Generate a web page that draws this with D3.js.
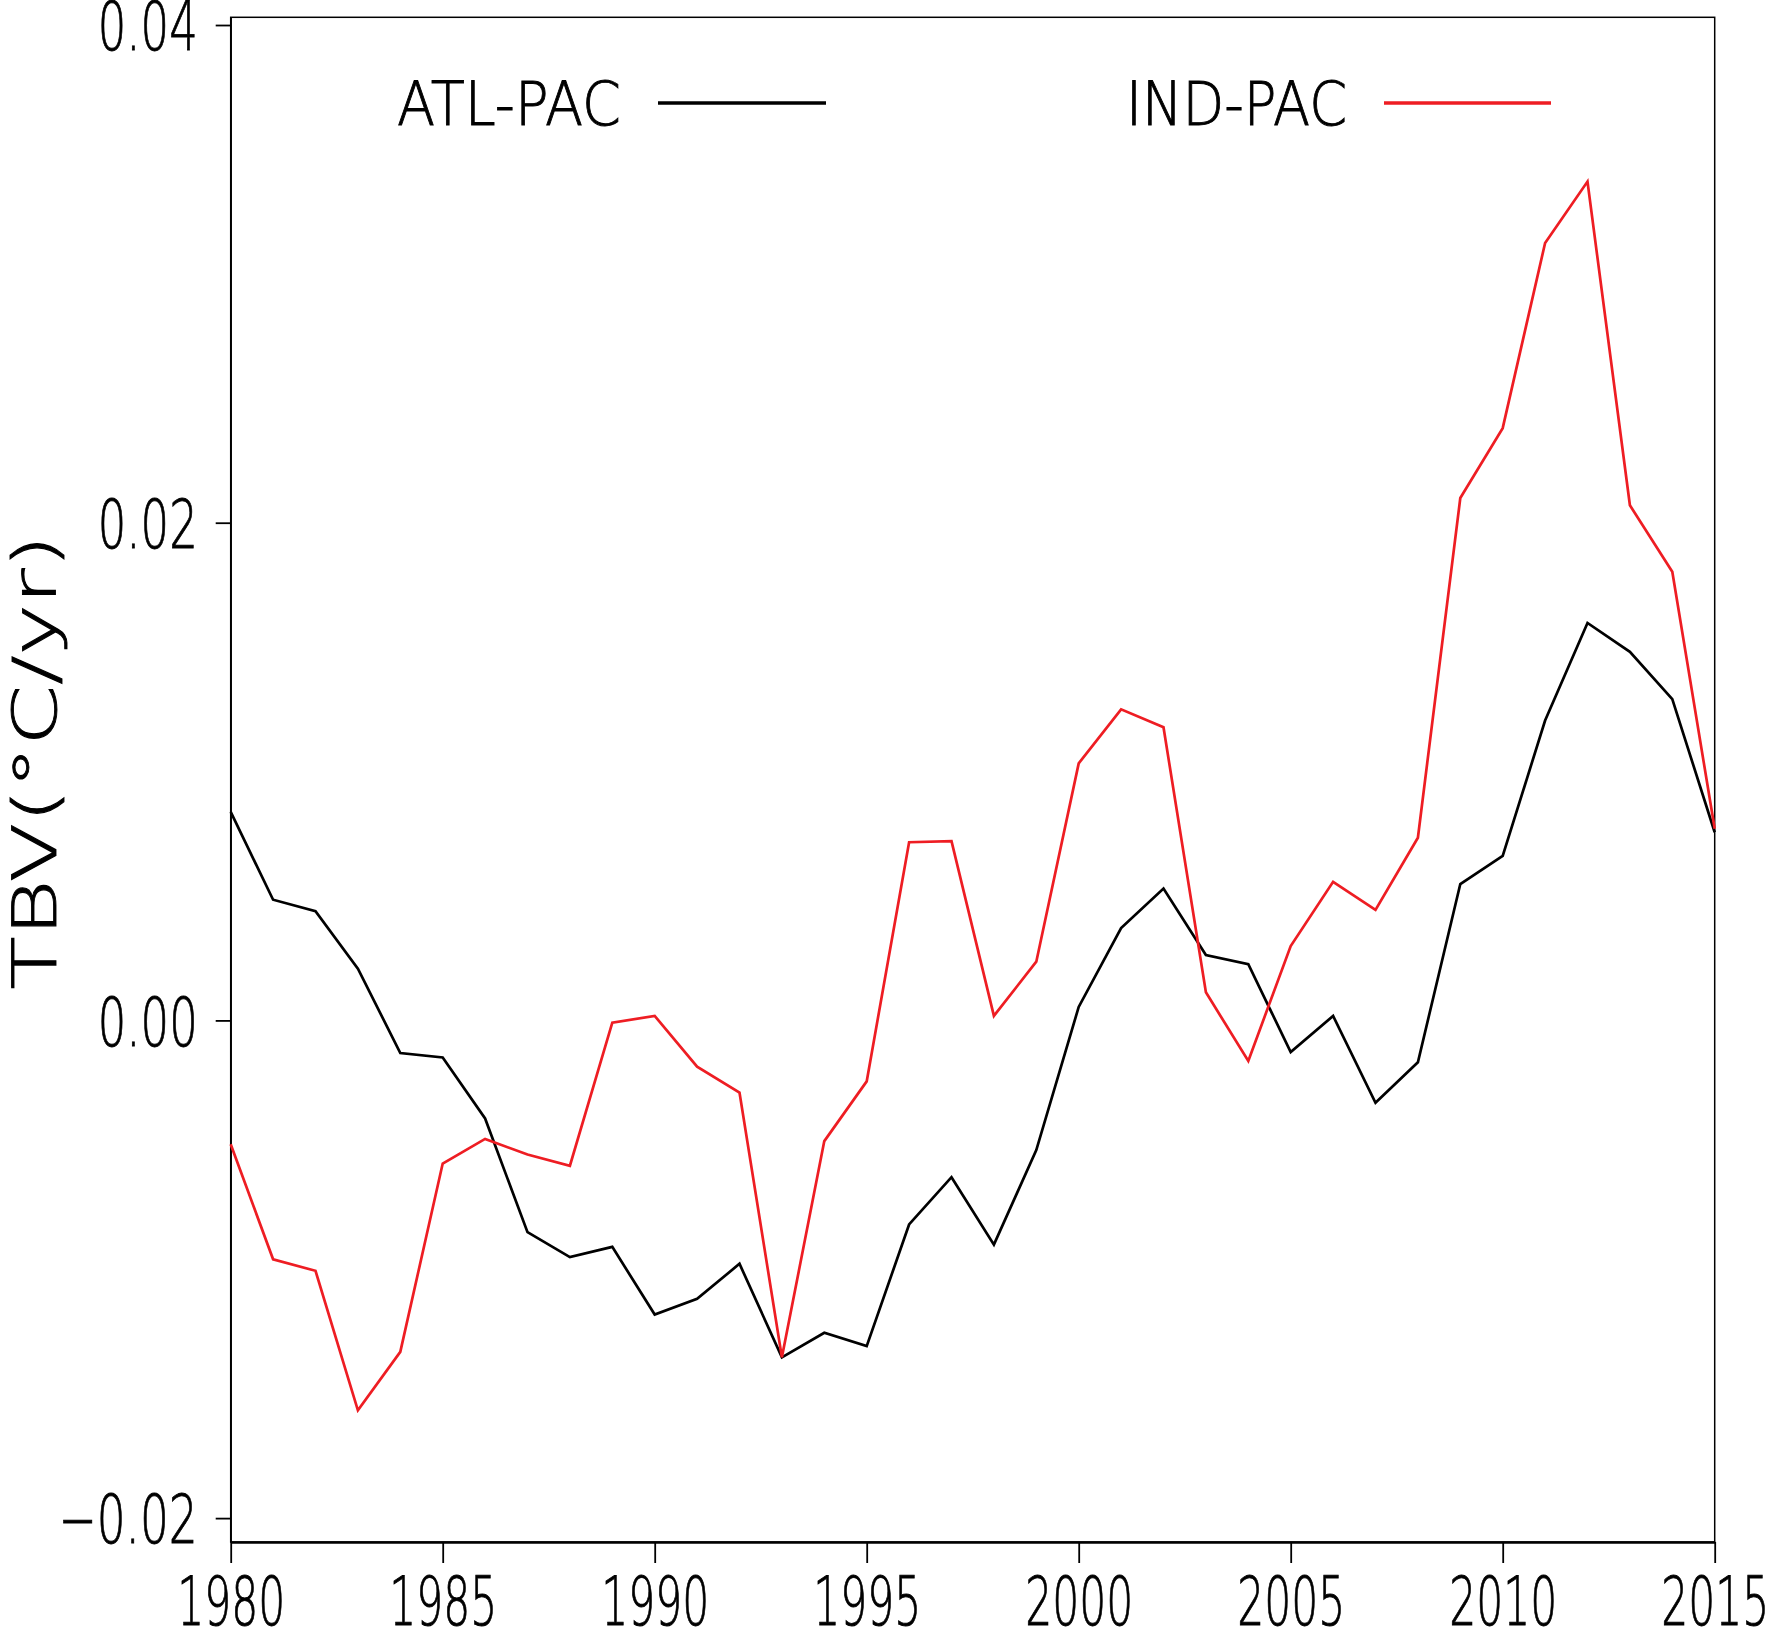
<!DOCTYPE html>
<html>
<head>
<meta charset="utf-8">
<script src="https://cdn.jsdelivr.net/npm/d3@7"></script>
<style>
  html, body { margin: 0; padding: 0; background: #fff; }
  svg { display: block; }
  text { font-family: "DejaVu Sans", sans-serif; font-weight: 200; fill: #000; stroke: #000; stroke-width: 0.9; }
</style>
</head>
<body>
<svg id="chart" width="1772" height="1628"></svg>
<script>
const years = [1980, 1981, 1982, 1983, 1984, 1985, 1986, 1987, 1988, 1989,
  1990, 1991, 1992, 1993, 1994, 1995, 1996, 1997, 1998, 1999,
  2000, 2001, 2002, 2003, 2004, 2005, 2006, 2007, 2008, 2009,
  2010, 2011, 2012, 2013, 2014, 2015];

const atlPac = [0.00838, 0.00485, 0.00439, 0.00208, -0.00131, -0.00149, -0.00394, -0.00851, -0.00951, -0.0091,
  -0.01182, -0.01119, -0.00978, -0.01354, -0.01255, -0.01309, -0.0082, -0.0063, -0.00901, -0.00521,
  0.00054, 0.00371, 0.0053, 0.00263, 0.00226, -0.00127, 0.00018, -0.00331, -0.00168, 0.00548,
  0.00661, 0.01205, 0.01597, 0.01481, 0.01291, 0.00756];

const indPac = [-0.00498, -0.0096, -0.01006, -0.01567, -0.01332, -0.00575, -0.00476, -0.00539, -0.00584, -0.00009,
  0.00018, -0.00186, -0.0029, -0.01354, -0.00485, -0.00245, 0.00716, 0.0072, 0.00018, 0.00236,
  0.01033, 0.0125, 0.01178, 0.00113, -0.00163, 0.00299, 0.00557, 0.00444, 0.00734, 0.02099,
  0.0238, 0.03124, 0.03371, 0.0207, 0.01803, 0.0077];

const xTicks = [1980, 1985, 1990, 1995, 2000, 2005, 2010, 2015];
const yTicks = [-0.02, 0, 0.02, 0.04];
const yTickLabels = ["\u22120.02", "0.00", "0.02", "0.04"];
const seriesNames = ["ATL-PAC", "IND-PAC"];
const seriesColors = ["#000000", "#ee1d23"];
const yTitle = "TBV(\u00b0C/yr)";

const svg = d3.select("#chart");

const plotLeft = 230.7, plotRight = 1714.7, plotTop = 17.3, plotBottom = 1542;
const x = d3.scaleLinear().domain([1980, 2015]).range([plotLeft, plotRight]);
const y = d3.scaleLinear().domain([-0.02096, 0.04031]).range([plotBottom, plotTop]);

// condensed plotter font: squeeze glyphs to a fixed width per character
const charWidth = (ch) => (ch === "." ? 19 : ch === "\u2212" ? 39 : 27);
function squeeze(sel) {
  sel.attr("lengthAdjust", "spacingAndGlyphs")
    .attr("textLength", function () {
      return Array.from(this.textContent).reduce((s, ch) => s + charWidth(ch), 0);
    });
}

// frame
svg.append("rect")
  .attr("x", plotLeft).attr("y", plotTop)
  .attr("width", plotRight - plotLeft).attr("height", plotBottom - plotTop)
  .attr("fill", "none").attr("stroke", "#000").attr("stroke-width", 1.5);

// axes
const xAxis = svg.append("g")
  .attr("transform", `translate(0,${plotBottom})`)
  .call(d3.axisBottom(x).tickValues(xTicks).tickSize(21).tickPadding(14)
    .tickSizeOuter(0).tickFormat(d3.format("d")));

const yAxis = svg.append("g")
  .attr("transform", `translate(${plotLeft},0)`)
  .call(d3.axisLeft(y).tickValues(yTicks).tickSize(15).tickPadding(18)
    .tickSizeOuter(0).tickFormat((d, i) => yTickLabels[i]));

xAxis.select(".domain").attr("stroke-width", 2.6);
yAxis.select(".domain").attr("stroke-width", 1.5);
xAxis.selectAll(".tick line").attr("stroke-width", 1.8);
yAxis.selectAll(".tick line").attr("stroke-width", 1.8);

[xAxis, yAxis].forEach((g) => {
  g.attr("font-family", null).attr("font-size", null);
  g.selectAll("text")
    .attr("font-size", 68)
    .call(squeeze);
});
yAxis.selectAll("text").attr("dy", "0.365em");

// y title
svg.append("text")
  .attr("transform", "translate(56,762) rotate(-90)")
  .attr("text-anchor", "middle")
  .attr("font-size", 60)
  .attr("lengthAdjust", "spacingAndGlyphs")
  .attr("textLength", 455)
  .text(yTitle);

// series
const line = d3.line().x((d, i) => x(years[i])).y((d) => y(d));
[atlPac, indPac].forEach((vals, i) => {
  svg.append("path")
    .datum(vals)
    .attr("fill", "none")
    .attr("stroke", seriesColors[i])
    .attr("stroke-width", 2.7)
    .attr("stroke-linejoin", "miter")
    .attr("d", line);
});

// legend
const legendPos = [
  { tx: 397, tw: 224, lx0: 658, lx1: 826 },
  { tx: 1126, tw: 221, lx0: 1384, lx1: 1551 }
];
seriesNames.forEach((name, i) => {
  const p = legendPos[i];
  svg.append("text")
    .attr("x", p.tx).attr("y", 125)
    .attr("font-size", 60)
    .attr("lengthAdjust", "spacingAndGlyphs")
    .attr("textLength", p.tw)
    .text(name);
  svg.append("line")
    .attr("x1", p.lx0).attr("x2", p.lx1)
    .attr("y1", 103).attr("y2", 103)
    .attr("stroke", seriesColors[i])
    .attr("stroke-width", 3.4);
});
</script>
</body>
</html>
